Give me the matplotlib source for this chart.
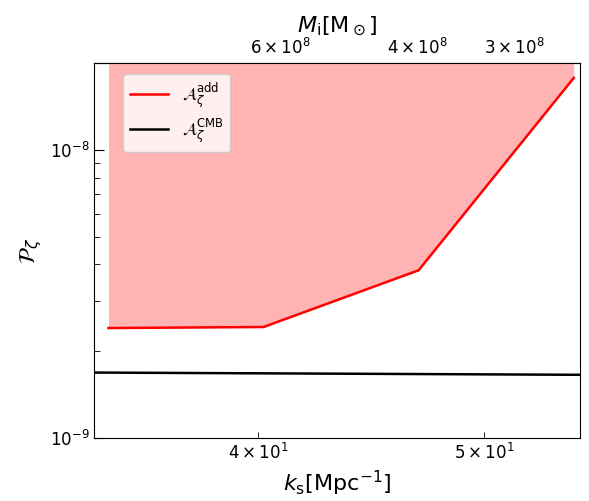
import numpy as np
import matplotlib
matplotlib.use("Agg")
import matplotlib.pyplot as plt
from matplotlib.ticker import NullLocator, LogLocator

# Horizon mass <-> scale relation: M_i = C_MASS / k_s^3
C_MASS = 4.1e13

# Masses sampled for the added amplitude bound
mass_i = [1e9, 10**8.8, 10**8.6, 10**8.4]
amp_add = [2.41e-9, 2.43e-9, 3.82e-9, 1.77e-8]

# CMB-extrapolated amplitude across the plotted range
k_cmb = [34.0, 55.0]
amp_cmb = [1.69e-9, 1.66e-9]


def k_from_m(m):
    return (C_MASS / np.asarray(m, dtype=float)) ** (1.0 / 3.0)


def m_from_k(k):
    return C_MASS / np.asarray(k, dtype=float) ** 3


k_add = k_from_m(mass_i)

fig = plt.figure(figsize=(5.89, 5.01), dpi=100)
ax = fig.add_axes([0.16, 0.125, 0.825, 0.75])

ax.fill_between(k_add, amp_add, 1e-7, color=(1.0, 0.7, 0.7), lw=0)
ax.plot(k_add, amp_add, color="red", lw=1.8, label=r"$\mathcal{A}_\zeta^{\rm add}$")
ax.plot(k_cmb, amp_cmb, color="black", lw=1.8, label=r"$\mathcal{A}_\zeta^{\rm CMB}$")

ax.set_xscale("log")
ax.set_yscale("log")
ax.set_xlim(34.0, 55.0)
ax.set_ylim(1e-9, 2e-8)

ax.tick_params(which="both", direction="in", labelsize=12)
ax.tick_params(which="major", length=7)
ax.tick_params(which="minor", length=4)

ax.set_xlabel(r"$k_{\rm s}[{\rm Mpc}^{-1}]$", fontsize=16)
ax.set_ylabel(r"$\mathcal{P}_\zeta$", fontsize=16)

# Mass axis: only the sub-decade ticks fall in the visible range
sec = ax.secondary_xaxis("top", functions=(m_from_k, k_from_m))
sec.xaxis.set_major_locator(NullLocator())
sec.xaxis.set_minor_locator(LogLocator(subs="auto"))
sec.tick_params(which="both", direction="in", labelsize=12, length=4)
sec.set_xlabel(r"$M_{\rm i}[{\rm M}_\odot]$", fontsize=16)

ax.legend(loc="upper left", bbox_to_anchor=(0.06, 0.97), borderaxespad=0.0,
          fontsize=12, handlelength=2.3, labelspacing=0.4)

fig.savefig("out.png", dpi=100)
